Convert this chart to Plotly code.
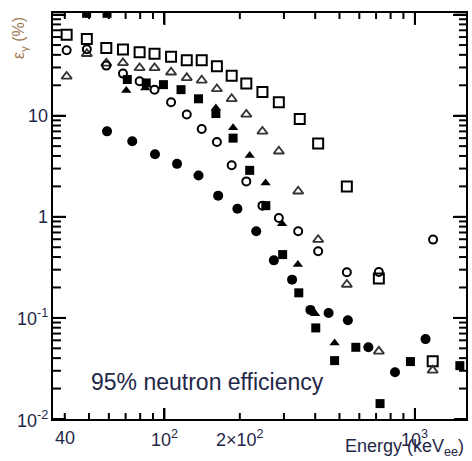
import numpy as np
import plotly.graph_objects as go

# ---------------- data ----------------
open_sq_x = [40.7, 49, 58.6, 68.3, 79.6, 91.3, 106.3, 122.8, 140.9, 162, 185.6, 212.3, 246.2, 286.3, 347, 411, 535, 718, 1178]
open_sq_y = [63.4, 57.5, 46.8, 45.1, 42.4, 41.1, 38.2, 35.3, 35.3, 30.8, 24.9, 20.8, 17.2, 13.6, 9.3, 5.3, 2.0, 0.245, 0.0372]

open_tri_x = [40.7, 49, 58.6, 68.3, 79.6, 91.3, 106.3, 122.8, 140.9, 162, 185.6, 212.3, 246.2, 286.3, 342, 411, 535, 718, 1178]
open_tri_y = [24.5, 41, 33, 33.3, 29.7, 29.7, 26.9, 23.7, 22.4, 18.4, 14.7, 10.3, 7.0, 4.45, 1.79, 0.595, 0.214, 0.0467, 0.0303]

open_cir_x = [40.7, 49, 58.6, 68.3, 79.6, 91.3, 106.3, 122.8, 140.9, 162, 185.6, 212.3, 246.2, 286.3, 342, 411, 535, 718, 1182]
open_cir_y = [44.4, 45.5, 31.3, 26.1, 21.9, 18.1, 13.6, 10.3, 7.4, 5.5, 3.23, 2.24, 1.29, 0.975, 0.719, 0.457, 0.283, 0.285, 0.595]

fill_sq_x = [48.9, 59, 71.1, 84.6, 99.1, 116.5, 136.8, 160.5, 188, 219, 254, 296.5, 343.9, 402, 478, 581, 726, 960, 1512]
fill_sq_y = [103, 103, 22.8, 21.1, 20.3, 18.1, 14.7, 10.5, 6.0, 2.88, 1.29, 0.423, 0.177, 0.0796, 0.0378, 0.0512, 0.0142, 0.037, 0.0337]

fill_tri_x = [70.4, 83.8, 160.5, 188, 219, 253.5, 295, 341, 400, 478]
fill_tri_y = [17.8, 18.8, 11.9, 7.6, 4.05, 2.16, 0.856, 0.337, 0.110, 0.0566]

fill_cir_x = [59, 74.4, 91.7, 112.3, 136.8, 163.9, 195.6, 232.6, 273.5, 323.4, 382.6, 452.4, 540, 652, 833, 1103]
fill_cir_y = [7.0, 5.6, 4.15, 3.34, 2.56, 1.62, 1.20, 0.719, 0.371, 0.239, 0.12, 0.112, 0.0947, 0.0512, 0.029, 0.0617]

x_label_vals = [40, 100, 200, 1000]
x_label_text = ["40", "10<sup>2</sup>", "2×10<sup>2</sup>", "10<sup>3</sup>"]
y_label_vals = [0.01, 0.1, 1, 10]
y_label_text = ["10<sup>-2</sup>", "10<sup>-1</sup>", "1", "10"]

x_major_ticks = [100, 1000]
x_minor_ticks = [40, 50, 60, 70, 80, 90, 200, 300, 400, 500, 600, 700, 800, 900]
y_major_ticks = [0.01, 0.1, 1, 10, 100]
y_minor_ticks = [m * d for d in (0.01, 0.1, 1, 10) for m in range(2, 10)]

X_RANGE_LOG = [np.log10(35.9), np.log10(1600)]
Y_RANGE_LOG = [-2.0, 2.016]

W, H = 472, 461
M = dict(l=53, r=4, t=13, b=42)

# ---------------- figure ----------------
TXT = "#1f2748"
FONT = "Liberation Sans, Arial, sans-serif"

fig = go.Figure()

def add(x, y, symbol, size, lw=2.0, color="black"):
    fig.add_trace(go.Scatter(
        x=x, y=y, mode="markers", cliponaxis=True,
        marker=dict(symbol=symbol, size=size, color=color,
                    line=dict(width=lw, color=color)),
        showlegend=False, hoverinfo="skip"))

add(open_sq_x, open_sq_y, "square-open", 10)
add(open_tri_x, open_tri_y, "triangle-up-open", 9, lw=1.8, color="#333333")
add(open_cir_x, open_cir_y, "circle-open", 8)
add(fill_sq_x, fill_sq_y, "square", 9, lw=0)
add(fill_tri_x, fill_tri_y, "triangle-up", 9, lw=0)
add(fill_cir_x, fill_cir_y, "circle", 10, lw=0)

# ---- tick marks drawn as short line segments inside the frame ----
plot_w = W - M["l"] - M["r"]
plot_h = H - M["t"] - M["b"]
x_dec_per_px = (X_RANGE_LOG[1] - X_RANGE_LOG[0]) / plot_w
y_dec_per_px = (Y_RANGE_LOG[1] - Y_RANGE_LOG[0]) / plot_h

tx, ty = [], []
def xticks(vals, len_bottom, len_top):
    for v in vals:
        tx.extend([v, v, None, v, v, None])
        ty.extend([10 ** Y_RANGE_LOG[0], 10 ** (Y_RANGE_LOG[0] + len_bottom * y_dec_per_px), None,
                   10 ** Y_RANGE_LOG[1], 10 ** (Y_RANGE_LOG[1] - len_top * y_dec_per_px), None])

def yticks(vals, len_left, len_right):
    for v in vals:
        ty.extend([v, v, None, v, v, None])
        tx.extend([10 ** X_RANGE_LOG[0], 10 ** (X_RANGE_LOG[0] + len_left * x_dec_per_px), None,
                   10 ** X_RANGE_LOG[1], 10 ** (X_RANGE_LOG[1] - len_right * x_dec_per_px), None])

xticks(x_major_ticks, 11, 12)
xticks(x_minor_ticks, 6, 6)
yticks(y_major_ticks, 13, 12)
yticks(y_minor_ticks, 8, 7)

fig.add_trace(go.Scatter(x=tx, y=ty, mode="lines", cliponaxis=True, connectgaps=False,
                         line=dict(color="black", width=2),
                         showlegend=False, hoverinfo="skip"))

fig.update_xaxes(
    type="log", range=X_RANGE_LOG,
    showline=True, linecolor="black", linewidth=2, mirror="ticks",
    ticks="inside", ticklen=11, tickwidth=2, tickcolor="black",
    tickmode="array", tickvals=x_major_ticks, ticktext=["", ""],
    showticklabels=False, showgrid=False, zeroline=False)
fig.update_yaxes(
    type="log", range=Y_RANGE_LOG,
    showline=True, linecolor="black", linewidth=2, mirror="ticks",
    ticks="inside", ticklen=13, tickwidth=2, tickcolor="black",
    tickmode="array", tickvals=y_major_ticks, ticktext=[""] * len(y_major_ticks),
    showticklabels=False, showgrid=False, zeroline=False)

annotations = []
for v, t in zip(x_label_vals, x_label_text):
    annotations.append(dict(x=float(np.log10(v)), xref="x", y=-0.047, yref="paper",
                            text=t, showarrow=False, xanchor="center", yanchor="middle",
                            font=dict(family=FONT, size=18, color=TXT)))
for v, t in zip(y_label_vals, y_label_text):
    annotations.append(dict(x=0, xref="paper", xshift=-3, y=float(np.log10(v)), yref="y",
                            text=t, showarrow=False, xanchor="right", yanchor="middle",
                            font=dict(family=FONT, size=18, color=TXT)))
annotations.append(dict(x=0.0867, xref="paper", y=0.0906, yref="paper",
                        text="95% neutron efficiency", showarrow=False,
                        xanchor="left", yanchor="middle",
                        font=dict(family=FONT, size=23, color=TXT)))
annotations.append(dict(x=1.0, xref="paper", y=-0.071, yref="paper",
                        text="Energy (keV<sub>ee</sub>)", showarrow=False,
                        xanchor="right", yanchor="middle",
                        font=dict(family=FONT, size=18, color=TXT)))
annotations.append(dict(x=-0.0795, xref="paper", y=0.939, yref="paper",
                        text="ε<sub>γ</sub> (%)", showarrow=False, textangle=-90,
                        xanchor="center", yanchor="middle",
                        font=dict(family=FONT, size=16, color="#a07a55")))

fig.update_layout(
    width=W, height=H,
    margin=M,
    paper_bgcolor="white", plot_bgcolor="white",
    annotations=annotations,
    showlegend=False)

fig.write_html("out.html")
